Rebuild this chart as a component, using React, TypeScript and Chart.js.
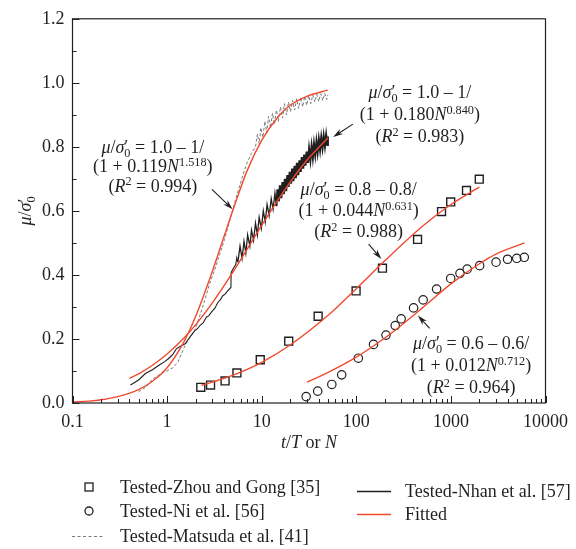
import React, { useEffect, useRef } from 'react';
import { Chart, registerables } from 'chart.js';
Chart.register(...registerables);

const FONT = '"Liberation Serif", "Times New Roman", serif';
const INK = '#231f20';
const RED = '#ef4a2e';
const GRAY = '#7a7a7a';

// Axis ticks
const xTickValues = [0.1, 1, 10, 100, 1000, 10000];
const yMin = 0;
const yMax = 1.2;

// Tested-Zhou and Gong [35] (squares)
const zhouN = [2.27, 2.88, 4.1, 5.47, 9.65, 19.3, 39.5, 99.5, 189, 444, 796, 995, 1462, 1995];
const zhouMu = [0.049, 0.056, 0.069, 0.094, 0.135, 0.193, 0.271, 0.35, 0.421, 0.511, 0.598, 0.628, 0.664, 0.699];

// Tested-Ni et al. [56] (circles)
const niN = [29.5, 39.1, 55.1, 70.1, 105, 152, 206, 258, 298, 403, 509, 706, 995, 1247, 1486, 2014, 3000, 3972, 4966, 5970];
const niMu = [0.02, 0.037, 0.058, 0.088, 0.14, 0.183, 0.212, 0.242, 0.263, 0.297, 0.322, 0.356, 0.389, 0.405, 0.418, 0.429, 0.44, 0.449, 0.452, 0.455];

// Tested-Nhan et al. [57] (solid black, noisy)
const nhanN = [
  0.41, 0.5, 0.59, 0.7, 0.82, 0.95, 1.04, 1.15, 1.26, 1.4,
  1.55, 1.74, 1.96, 2.1, 2.22, 2.4, 2.6, 2.75, 2.93, 3.2,
  3.44, 3.65, 3.88, 4.1, 4.37, 4.73, 4.75, 5.0, 5.33, 5.45,
  5.6, 5.9, 6.2, 6.5, 6.8, 7.1, 7.5, 7.8, 8.2, 8.6,
  9.0, 9.4, 9.9, 10.4, 10.9, 11.4, 12.0, 12.6, 13.2, 13.8,
  14.3, 14.7, 15.2, 15.6, 16.1, 16.6, 17.1, 17.6, 18.1, 18.7,
  19.2, 19.8, 20.4, 21.0, 21.6, 22.3, 22.9, 23.6, 24.3, 25.1,
  25.8, 26.6, 27.4, 28.2, 29.0, 29.9, 30.8, 31.7, 32.7, 33.7,
  34.7, 35.7, 36.8, 37.9, 39.0, 40.2, 41.4, 42.6, 43.9, 45.2,
  46.6, 48.0, 49.4, 50.0,
];
const nhanMu = [
  0.056, 0.072, 0.092, 0.104, 0.118, 0.13, 0.139, 0.152, 0.17, 0.178,
  0.185, 0.206, 0.226, 0.232, 0.242, 0.25, 0.268, 0.272, 0.283, 0.296,
  0.314, 0.322, 0.335, 0.34, 0.35, 0.361, 0.407, 0.42, 0.433, 0.454,
  0.44, 0.49, 0.452, 0.505, 0.468, 0.525, 0.49, 0.54, 0.508, 0.562,
  0.525, 0.58, 0.545, 0.6, 0.565, 0.62, 0.585, 0.638, 0.605, 0.655,
  0.615, 0.667, 0.63, 0.68, 0.64, 0.69, 0.652, 0.7, 0.662, 0.712,
  0.675, 0.722, 0.685, 0.732, 0.693, 0.741, 0.702, 0.75, 0.712, 0.758,
  0.722, 0.768, 0.732, 0.776, 0.741, 0.785, 0.75, 0.793, 0.76, 0.801,
  0.768, 0.808, 0.776, 0.815, 0.784, 0.822, 0.792, 0.828, 0.798, 0.833,
  0.803, 0.836, 0.806, 0.832,
];

// Tested-Matsuda et al. [41] (grey dashed, noisy)
const matsudaN = [
  0.5, 0.6, 0.7, 0.8, 0.9, 1.0, 1.15, 1.3, 1.55, 1.75,
  1.96, 2.2, 2.5, 2.8, 3.17, 3.6, 4.04, 4.5, 5.0, 5.6,
  6.3, 7.0, 7.8, 8.6, 9.0, 9.4, 9.8, 10.3, 10.8, 11.3,
  11.8, 12.4, 13.0, 13.6, 14.3, 15.0, 15.8, 16.6, 17.4, 18.3,
  19.2, 20.2, 21.2, 22.3, 23.4, 24.6, 25.8, 27.1, 28.5, 29.9,
  31.4, 33.0, 34.7, 36.4, 38.2, 40.1, 42.1, 44.2, 46.4, 48.7, 50.0,
];
const matsudaMu = [
  0.035, 0.05, 0.075, 0.085, 0.095, 0.1, 0.11, 0.128, 0.18, 0.205,
  0.226, 0.27, 0.32, 0.37, 0.415, 0.465, 0.51, 0.56, 0.61, 0.66,
  0.71, 0.75, 0.78, 0.8, 0.84, 0.81, 0.86, 0.83, 0.88, 0.845,
  0.895, 0.86, 0.905, 0.87, 0.915, 0.88, 0.925, 0.89, 0.935, 0.9,
  0.94, 0.91, 0.945, 0.915, 0.95, 0.92, 0.955, 0.925, 0.958, 0.93,
  0.96, 0.935, 0.962, 0.94, 0.964, 0.942, 0.966, 0.945, 0.967, 0.948, 0.962,
];

// Fitted curves
const fitMatsudaN = [0.1, 0.15, 0.2, 0.3, 0.5, 0.7, 1, 1.5, 2, 3, 4, 5, 7, 10, 15, 20, 30, 50];
const fitMatsudaMu = [0.003, 0.006, 0.01, 0.02, 0.042, 0.068, 0.11, 0.19, 0.27, 0.41, 0.52, 0.605, 0.725, 0.82, 0.895, 0.93, 0.958, 0.977];
const fitNhanN = [0.4, 0.5, 0.7, 1, 1.5, 2, 3, 5, 7, 10, 15, 20, 30, 50];
const fitNhanMu = [0.077, 0.091, 0.118, 0.153, 0.202, 0.244, 0.312, 0.41, 0.48, 0.555, 0.636, 0.69, 0.758, 0.828];
const fitZhouN = [2.3, 3, 5, 10, 20, 50, 100, 200, 500, 1000, 2000];
const fitZhouMu = [0.055, 0.065, 0.087, 0.127, 0.181, 0.273, 0.357, 0.444, 0.552, 0.62, 0.674];
const fitNiN = [30, 50, 100, 200, 300, 500, 1000, 2000, 3000, 6000];
const fitNiMu = [0.065, 0.095, 0.143, 0.203, 0.243, 0.297, 0.372, 0.435, 0.465, 0.5];

const zip = (xs: number[], ys: number[]) => xs.map((x, i) => ({ x, y: ys[i] }));

type Seg = { t?: string; i?: boolean; sup?: boolean; sp?: [string, string] };

const SUP = 0.68;
const segFont = (size: number, italic?: boolean) => `${italic ? 'italic ' : ''}${size}px ${FONT}`;

function segsWidth(ctx: CanvasRenderingContext2D, segs: Seg[], size: number) {
  let w = 0;
  for (const s of segs) {
    if (s.sp) {
      ctx.font = segFont(size, false);
      const a = ctx.measureText(s.sp[0]).width;
      ctx.font = segFont(size * SUP, false);
      const b = ctx.measureText(s.sp[1]).width;
      w += Math.max(a, b);
    } else {
      ctx.font = segFont(s.sup ? size * SUP : size, s.i);
      w += ctx.measureText(s.t || '').width;
    }
  }
  return w;
}

function drawSegs(ctx: CanvasRenderingContext2D, segs: Seg[], cx: number, cy: number, size: number) {
  const total = segsWidth(ctx, segs, size);
  let x = cx - total / 2;
  const base = cy + size * 0.33;
  ctx.textAlign = 'left';
  ctx.textBaseline = 'alphabetic';
  ctx.fillStyle = INK;
  for (const s of segs) {
    if (s.sp) {
      ctx.font = segFont(size, false);
      const a = ctx.measureText(s.sp[0]).width;
      ctx.fillText(s.sp[0], x, base);
      ctx.font = segFont(size * SUP, false);
      const b = ctx.measureText(s.sp[1]).width;
      ctx.fillText(s.sp[1], x, base + size * 0.22);
      x += Math.max(a, b);
    } else if (s.sup) {
      ctx.font = segFont(size * SUP, s.i);
      ctx.fillText(s.t || '', x, base - size * 0.36);
      x += ctx.measureText(s.t || '').width;
    } else {
      ctx.font = segFont(size, s.i);
      ctx.fillText(s.t || '', x, base);
      x += ctx.measureText(s.t || '').width;
    }
  }
}

const muSigma: Seg[] = [{ t: 'μ', i: true }, { t: '/' }, { t: 'σ', i: true }, { sp: ['′', '0'] }];

function eq(rhs: string, coef: string, expo: string, r2: string): Seg[][] {
  return [
    [...muSigma, { t: ' = ' + rhs }],
    [{ t: '(1 + ' + coef }, { t: 'N', i: true }, { t: expo, sup: true }, { t: ')' }],
    [{ t: '(' }, { t: 'R', i: true }, { t: '2', sup: true }, { t: ' = ' + r2 + ')' }],
  ];
}

const annotations = [
  { n: 0.706, m: 0.8, gap: 19.5, lines: eq('1.0 – 1/', '0.119', '1.518', '0.994'), tail: [2.98, 0.667], tip: [4.93, 0.605] },
  { n: 470, m: 0.971, gap: 22, lines: eq('1.0 – 1/', '0.180', '0.840', '0.983'), tail: [92, 0.871], tip: [56.9, 0.831] },
  { n: 106, m: 0.667, gap: 21, lines: eq('0.8 – 0.8/', '0.044', '0.631', '0.988'), tail: [135, 0.496], tip: [184, 0.45] },
  { n: 1637, m: 0.186, gap: 22, lines: eq('0.6 – 0.6/', '0.012', '0.712', '0.964'), tail: [597, 0.233], tip: [448, 0.273] },
];

function arrow(ctx: CanvasRenderingContext2D, x1: number, y1: number, x2: number, y2: number) {
  const ang = Math.atan2(y2 - y1, x2 - x1);
  const L = 10, W = 3;
  ctx.strokeStyle = INK;
  ctx.lineWidth = 1.1;
  ctx.beginPath();
  ctx.moveTo(x1, y1);
  ctx.lineTo(x2 - Math.cos(ang) * L * 0.6, y2 - Math.sin(ang) * L * 0.6);
  ctx.stroke();
  ctx.fillStyle = INK;
  ctx.beginPath();
  ctx.moveTo(x2, y2);
  ctx.lineTo(x2 - Math.cos(ang) * L - Math.sin(ang) * W, y2 - Math.sin(ang) * L + Math.cos(ang) * W);
  ctx.lineTo(x2 - Math.cos(ang) * L * 0.7, y2 - Math.sin(ang) * L * 0.7);
  ctx.lineTo(x2 - Math.cos(ang) * L + Math.sin(ang) * W, y2 - Math.sin(ang) * L - Math.cos(ang) * W);
  ctx.closePath();
  ctx.fill();
}

const decor = {
  id: 'decor',
  afterDraw(chart: any) {
    const { ctx, chartArea: a, scales } = chart;
    const xs = scales.x, ys = scales.y;
    ctx.save();
    // frame
    ctx.strokeStyle = INK;
    ctx.lineWidth = 1.2;
    ctx.strokeRect(a.left, a.top, a.right - a.left, a.bottom - a.top);
    // x ticks (inside)
    ctx.lineWidth = 1;
    ctx.beginPath();
    for (let d = 0.1; d < 10000 * 1.01; d *= 10) {
      for (let k = 1; k <= 9; k++) {
        const v = d * k;
        if (v > 10000 * 1.001) break;
        const p = Math.round(xs.getPixelForValue(v)) + 0.5;
        const len = k === 1 ? 7 : 4;
        ctx.moveTo(p, a.bottom);
        ctx.lineTo(p, a.bottom - len);
      }
    }
    // y ticks
    for (let i = 0; i <= 12; i++) {
      const p = Math.round(ys.getPixelForValue(i / 10)) + 0.5;
      const len = i % 2 === 0 ? 7 : 4;
      ctx.moveTo(a.left, p);
      ctx.lineTo(a.left + len, p);
    }
    ctx.stroke();

    // annotations
    for (const an of annotations) {
      const cx = xs.getPixelForValue(an.n);
      const cy = ys.getPixelForValue(an.m);
      an.lines.forEach((segs, k) => drawSegs(ctx, segs, cx, cy + k * an.gap, 18));
      arrow(ctx, xs.getPixelForValue(an.tail[0]), ys.getPixelForValue(an.tail[1]), xs.getPixelForValue(an.tip[0]), ys.getPixelForValue(an.tip[1]));
    }

    // axis titles
    drawSegs(ctx, [{ t: 't', i: true }, { t: '/' }, { t: 'T', i: true }, { t: ' or ' }, { t: 'N', i: true }], (a.left + a.right) / 2, 442, 18);
    ctx.save();
    ctx.translate(25, (a.top + a.bottom) / 2);
    ctx.rotate(-Math.PI / 2);
    drawSegs(ctx, muSigma, 0, 0, 18);
    ctx.restore();

    // legend
    ctx.font = segFont(18);
    ctx.fillStyle = INK;
    ctx.textAlign = 'left';
    ctx.textBaseline = 'middle';
    ctx.strokeStyle = INK;
    ctx.lineWidth = 1.3;
    ctx.strokeRect(85, 483, 8, 8);
    ctx.fillText('Tested-Zhou and Gong [35]', 120, 488);
    ctx.beginPath();
    ctx.arc(89, 511, 4, 0, Math.PI * 2);
    ctx.stroke();
    ctx.fillText('Tested-Ni et al. [56]', 120, 512);
    ctx.strokeStyle = GRAY;
    ctx.lineWidth = 1;
    ctx.setLineDash([3, 2.5]);
    ctx.beginPath();
    ctx.moveTo(72, 536.5);
    ctx.lineTo(103, 536.5);
    ctx.stroke();
    ctx.setLineDash([]);
    ctx.fillText('Tested-Matsuda et al. [41]', 120, 537);
    ctx.strokeStyle = INK;
    ctx.lineWidth = 1.3;
    ctx.beginPath();
    ctx.moveTo(357, 491.5);
    ctx.lineTo(391, 491.5);
    ctx.stroke();
    ctx.fillText('Tested-Nhan et al. [57]', 405, 492);
    ctx.strokeStyle = RED;
    ctx.beginPath();
    ctx.moveTo(357, 514.5);
    ctx.lineTo(391, 514.5);
    ctx.stroke();
    ctx.fillText('Fitted', 405, 515);
    ctx.restore();
  },
};

export default function App() {
  const ref = useRef<HTMLCanvasElement>(null);
  useEffect(() => {
    if (!ref.current) return;
    const fitStyle = {
      showLine: true,
      borderColor: RED,
      borderWidth: 1.4,
      pointRadius: 0,
      cubicInterpolationMode: 'monotone' as const,
      order: 1,
    };
    const chart = new Chart(ref.current, {
      type: 'scatter',
      data: {
        datasets: [
          { label: 'Tested-Matsuda et al. [41]', data: zip(matsudaN, matsudaMu), showLine: true, borderColor: GRAY, borderWidth: 1, borderDash: [3, 2], pointRadius: 0, tension: 0, order: 6 },
          {
            label: 'Tested-Nhan et al. [57]',
            data: zip(nhanN, nhanMu),
            showLine: true,
            borderColor: INK,
            borderWidth: 1.1,
            pointRadius: 0,
            tension: 0,
            order: 5,
            segment: { borderWidth: (c: any) => (c.p0.parsed.x > 14 ? 2.2 : c.p0.parsed.x > 5.5 ? 1.3 : 1.1) },
          },
          { label: 'Tested-Zhou and Gong [35]', data: zip(zhouN, zhouMu), pointStyle: 'rect', pointRadius: 5.6, borderColor: INK, borderWidth: 1.4, backgroundColor: 'rgba(0,0,0,0)', order: 3 },
          { label: 'Tested-Ni et al. [56]', data: zip(niN, niMu), pointStyle: 'circle', pointRadius: 4.2, borderColor: INK, borderWidth: 1.2, backgroundColor: 'rgba(0,0,0,0)', order: 3 },
          { label: 'Fitted', data: zip(fitMatsudaN, fitMatsudaMu), ...fitStyle },
          { label: 'Fitted', data: zip(fitNhanN, fitNhanMu), ...fitStyle },
          { label: 'Fitted', data: zip(fitZhouN, fitZhouMu), ...fitStyle },
          { label: 'Fitted', data: zip(fitNiN, fitNiMu), ...fitStyle },
        ] as any,
      },
      options: {
        animation: false,
        responsive: false,
        devicePixelRatio: 1,
        events: [],
        layout: { padding: { left: 0, right: 23.5, top: 16, bottom: 0 } },
        plugins: { legend: { display: false }, tooltip: { enabled: false } },
        scales: {
          x: {
            type: 'logarithmic',
            min: 0.1,
            max: 10000,
            grid: { display: false, drawTicks: false },
            border: { display: false },
            afterBuildTicks: (s: any) => {
              s.ticks = xTickValues.map((v) => ({ value: v }));
            },
            afterFit: (s: any) => {
              s.height = 146;
            },
            ticks: {
              autoSkip: false,
              maxRotation: 0,
              padding: 8,
              color: INK,
              font: { family: FONT, size: 18 },
              callback: (v: any) => String(v),
            },
          },
          y: {
            min: yMin,
            max: yMax,
            grid: { display: false, drawTicks: false },
            border: { display: false },
            afterFit: (s: any) => {
              s.width = 72.5;
            },
            ticks: {
              stepSize: 0.2,
              padding: 8,
              color: INK,
              font: { family: FONT, size: 18 },
              callback: (v: any) => Number(v).toFixed(1),
            },
          },
        },
      },
      plugins: [decor],
    });
    return () => chart.destroy();
  }, []);
  return (
    <div style={{ position: 'fixed', left: 0, top: 0, width: 576, height: 549, background: '#fff' }}>
      <canvas ref={ref} width={576} height={549} style={{ display: 'block', width: 576, height: 549 }} />
    </div>
  );
}
